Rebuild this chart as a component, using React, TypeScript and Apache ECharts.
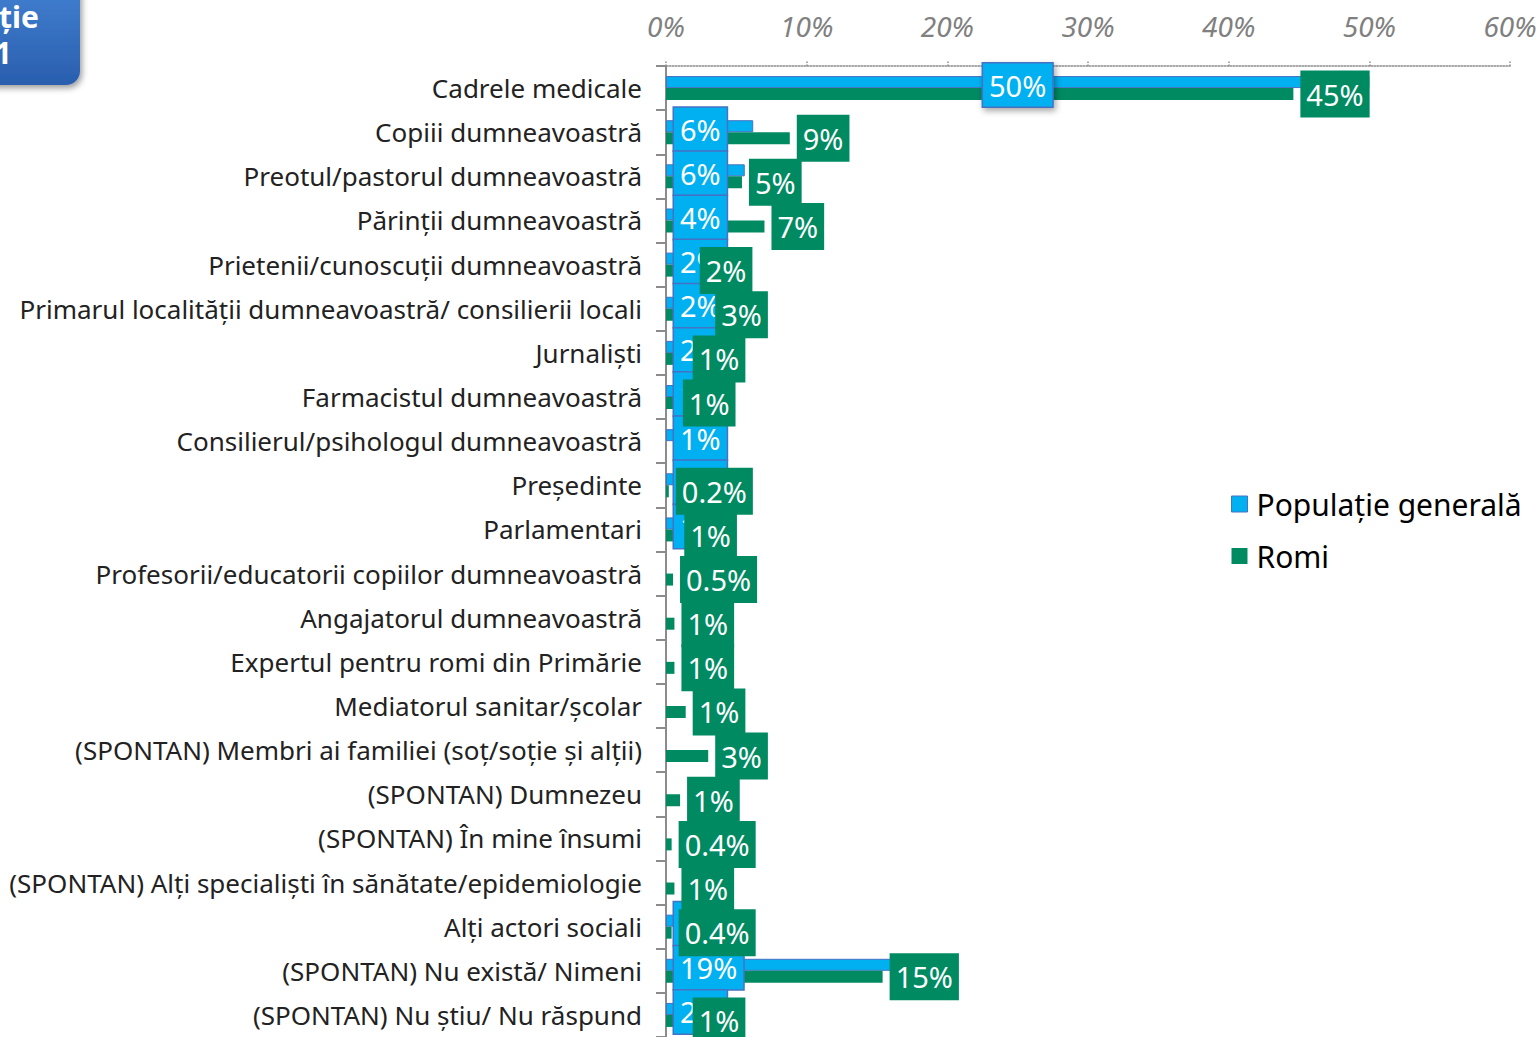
import React, { useEffect, useRef } from "react";
import * as echarts from "echarts";

const categories = [
  "Cadrele medicale",
  "Copiii dumneavoastră",
  "Preotul/pastorul dumneavoastră",
  "Părinții dumneavoastră",
  "Prietenii/cunoscuții dumneavoastră",
  "Primarul localității dumneavoastră/ consilierii locali",
  "Jurnaliști",
  "Farmacistul dumneavoastră",
  "Consilierul/psihologul dumneavoastră",
  "Președinte",
  "Parlamentari",
  "Profesorii/educatorii copiilor dumneavoastră",
  "Angajatorul dumneavoastră",
  "Expertul pentru romi din Primărie",
  "Mediatorul sanitar/școlar",
  "(SPONTAN) Membri ai familiei (soț/soție și alții)",
  "(SPONTAN) Dumnezeu",
  "(SPONTAN) În mine însumi",
  "(SPONTAN) Alți specialiști în sănătate/epidemiologie",
  "Alți actori sociali",
  "(SPONTAN) Nu există/ Nimeni",
  "(SPONTAN) Nu știu/ Nu răspund",
];

const populatieGenerala: (number | null)[] = [
  50, 6.2, 5.6, 4, 2, 2, 2, 1, 1, 1, 1, null, null, null, null, null, null, null, null, 1, 19, 2,
];

const romi: (number | null)[] = [
  44.6, 8.8, 5.4, 7, 1.9, 3, 1.4, 0.7, null, 0.2, 0.8, 0.5, 0.6, 0.6, 1.4, 3, 1, 0.4, 0.6, 0.4, 15.4, 1.4,
];

const xTicks = { min: 0, max: 60, interval: 10 };

const FONT = "Noto Sans";
const BLUE = "#00B0F0";
const BLUE_BORDER = "#4472C4";
const GREEN = "#008A62";

const fmt = (v: number) => (v <= 0.5 ? v.toFixed(1) : String(Math.max(1, Math.round(v)))) + "%";

export default function App() {
  const ref = useRef<HTMLDivElement>(null);
  useEffect(() => {
    if (!ref.current) return;
    const chart = echarts.init(ref.current, undefined, { renderer: "svg" });
    const blueData = populatieGenerala.map((v, i) =>
      v == null
        ? null
        : i === 0
        ? {
            value: v,
            label: {
              position: "inside",
              shadowColor: "rgba(0,0,0,0.35)",
              shadowBlur: 6,
              shadowOffsetX: 2,
              shadowOffsetY: 3,
            },
          }
        : v
    );
    chart.setOption({
      animation: false,
      textStyle: { fontFamily: FONT },
      grid: { left: 666, right: 30, top: 66, bottom: 0, containLabel: false },
      legend: {
        orient: "vertical",
        left: 1226,
        top: 484,
        itemWidth: 16,
        itemHeight: 16,
        itemGap: 22,
        icon: "rect",
        textStyle: { fontSize: 30, color: "#000", fontFamily: FONT, padding: [0, 0, 0, 4] },
        data: [
          { name: "Populație generală", itemStyle: { borderColor: BLUE_BORDER, borderWidth: 1 } },
          { name: "Romi" },
        ],
      },
      xAxis: {
        type: "value",
        position: "top",
        min: xTicks.min,
        max: xTicks.max,
        interval: xTicks.interval,
        axisLine: { show: true, lineStyle: { color: "#8c8c8c", type: "dotted", width: 1.5 } },
        axisTick: { show: true, length: 5, lineStyle: { color: "#8c8c8c", type: "dotted", width: 1.5 } },
        splitLine: { show: false },
        axisLabel: {
          formatter: "{value}%",
          fontSize: 28,
          fontStyle: "italic",
          color: "#808080",
          margin: 26,
          fontFamily: FONT,
        },
      },
      yAxis: {
        type: "category",
        inverse: true,
        data: categories,
        axisLine: { show: true, lineStyle: { color: "#8c8c8c", width: 2 } },
        axisTick: { show: true, length: 10, lineStyle: { color: "#8c8c8c", width: 2 } },
        axisLabel: { fontSize: 26, color: "#222", margin: 24, fontFamily: FONT },
      },
      series: [
        {
          name: "Populație generală",
          type: "bar",
          data: blueData,
          barWidth: 12,
          barGap: "0%",
          itemStyle: { color: BLUE, borderColor: BLUE_BORDER, borderWidth: 1 },
          label: {
            show: true,
            position: "insideLeft",
            distance: 8,
            offset: [0, 3],
            formatter: (p: any) => fmt(p.value),
            color: "#fff",
            fontSize: 29,
            lineHeight: 30,
            fontFamily: FONT,
            backgroundColor: BLUE,
            borderColor: BLUE_BORDER,
            borderWidth: 1.5,
            padding: [7, 6, 6, 6],
          },
        },
        {
          name: "Romi",
          type: "bar",
          data: romi,
          barWidth: 12,
          barGap: "0%",
          itemStyle: { color: GREEN },
          label: {
            show: true,
            position: "right",
            distance: 7,
            formatter: (p: any) => fmt(p.value),
            color: "#fff",
            fontSize: 29,
            lineHeight: 30,
            fontFamily: FONT,
            backgroundColor: GREEN,
            padding: [9, 6, 8, 6],
          },
        },
      ],
      graphic: [
        {
          type: "rect",
          shape: { x: -40, y: -30, width: 120, height: 115, r: 14 },
          style: {
            fill: new echarts.graphic.LinearGradient(0, 0, 0, 1, [
              { offset: 0, color: "#4585D6" },
              { offset: 1, color: "#2A5EAE" },
            ]),
            shadowColor: "rgba(0,0,0,0.4)",
            shadowBlur: 6,
            shadowOffsetX: 2,
            shadowOffsetY: 3,
          },
        },
        {
          type: "text",
          x: 39,
          y: 16,
          style: {
            text: "ție",
            fill: "#fff",
            fontSize: 30,
            fontWeight: "bold",
            fontFamily: FONT,
            align: "right",
            verticalAlign: "middle",
          },
        },
        {
          type: "text",
          x: 12,
          y: 52,
          style: {
            text: "1",
            fill: "#fff",
            fontSize: 30,
            fontWeight: "bold",
            fontFamily: FONT,
            align: "right",
            verticalAlign: "middle",
          },
        },
      ],
    });
    return () => chart.dispose();
  }, []);
  return (
    <div
      ref={ref}
      style={{ position: "fixed", left: 0, top: 0, width: 1540, height: 1037, background: "#fff" }}
    />
  );
}
